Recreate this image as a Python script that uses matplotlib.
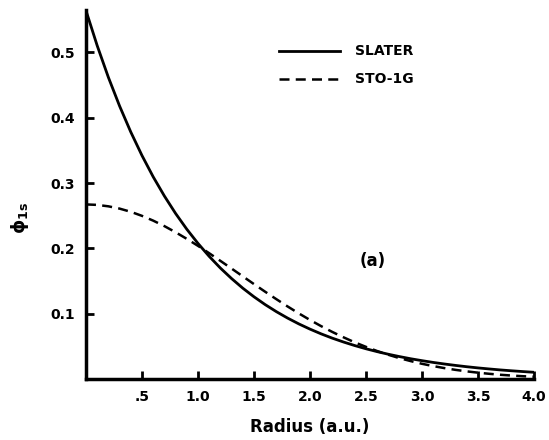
import matplotlib
matplotlib.use("Agg")
import matplotlib.pyplot as plt

radius = [0.0, 0.1, 0.2, 0.3, 0.4, 0.5, 0.6, 0.7, 0.8, 0.9, 1.0,
          1.1, 1.2, 1.3, 1.4, 1.5, 1.6, 1.7, 1.8, 1.9, 2.0,
          2.1, 2.2, 2.3, 2.4, 2.5, 2.6, 2.7, 2.8, 2.9, 3.0,
          3.1, 3.2, 3.3, 3.4, 3.5, 3.6, 3.7, 3.8, 3.9, 4.0]
slater = [0.5642, 0.5105, 0.4619, 0.4180, 0.3782, 0.3422, 0.3096, 0.2802, 0.2535, 0.2294, 0.2076,
          0.1878, 0.1699, 0.1538, 0.1391, 0.1259, 0.1139, 0.1031, 0.0933, 0.0844, 0.0764,
          0.0691, 0.0625, 0.0566, 0.0512, 0.0463, 0.0419, 0.0379, 0.0343, 0.0310, 0.0281,
          0.0254, 0.0230, 0.0208, 0.0188, 0.0170, 0.0154, 0.0139, 0.0126, 0.0114, 0.0103]
sto1g = [0.2673, 0.2666, 0.2644, 0.2609, 0.2560, 0.2498, 0.2425, 0.2341, 0.2247, 0.2146, 0.2039,
         0.1926, 0.1809, 0.1691, 0.1572, 0.1453, 0.1336, 0.1222, 0.1111, 0.1005, 0.0904,
         0.0809, 0.0720, 0.0638, 0.0561, 0.0492, 0.0428, 0.0371, 0.0319, 0.0274, 0.0233,
         0.0198, 0.0167, 0.0140, 0.0117, 0.0097, 0.0080, 0.0065, 0.0053, 0.0043, 0.0035]

xticks = [0.5, 1.0, 1.5, 2.0, 2.5, 3.0, 3.5, 4.0]
xticklabels = [".5", "1.0", "1.5", "2.0", "2.5", "3.0", "3.5", "4.0"]
yticks = [0.1, 0.2, 0.3, 0.4, 0.5]
yticklabels = ["0.1", "0.2", "0.3", "0.4", "0.5"]

fig = plt.figure(figsize=(5.49, 4.40), dpi=100)
ax = fig.add_axes([0.1566, 0.1386, 0.8161, 0.8387])

ax.plot(radius, slater, color="black", lw=2.0, solid_capstyle="butt")
ax.plot(radius, sto1g, color="black", lw=1.8, dashes=(4, 2.5))

ax.set_xlim(0, 4.0)
ax.set_ylim(0, 0.565)
for s in ["top", "right"]:
    ax.spines[s].set_visible(False)
for s in ["left", "bottom"]:
    ax.spines[s].set_linewidth(2.5)

ax.set_xticks(xticks)
ax.set_xticklabels(xticklabels)
ax.set_yticks(yticks)
ax.set_yticklabels(yticklabels)
ax.tick_params(direction="in", length=6, width=2, labelsize=10, pad=8)
for lab in ax.get_xticklabels() + ax.get_yticklabels():
    lab.set_fontweight("bold")

ax.set_xlabel("Radius (a.u.)", fontsize=12, fontweight="bold", labelpad=10)
fig.text(20 / 549, 1 - 218 / 440, r"$\mathbf{\phi}_{\mathbf{1s}}$", fontsize=13,
         rotation=90, ha="center", va="center")

# legend drawn manually in data coords
ax.plot([1.72, 2.27], [0.502, 0.502], color="black", lw=2.0)
ax.text(2.4, 0.502, "SLATER", fontsize=10, fontweight="bold", va="center")
ax.plot([1.72, 2.27], [0.460, 0.460], color="black", lw=1.8, dashes=(4, 2.5))
ax.text(2.4, 0.460, "STO-1G", fontsize=10, fontweight="bold", va="center")

ax.text(2.56, 0.18, "(a)", fontsize=12, fontweight="bold", ha="center", va="center")

fig.savefig("out.png", dpi=100)
